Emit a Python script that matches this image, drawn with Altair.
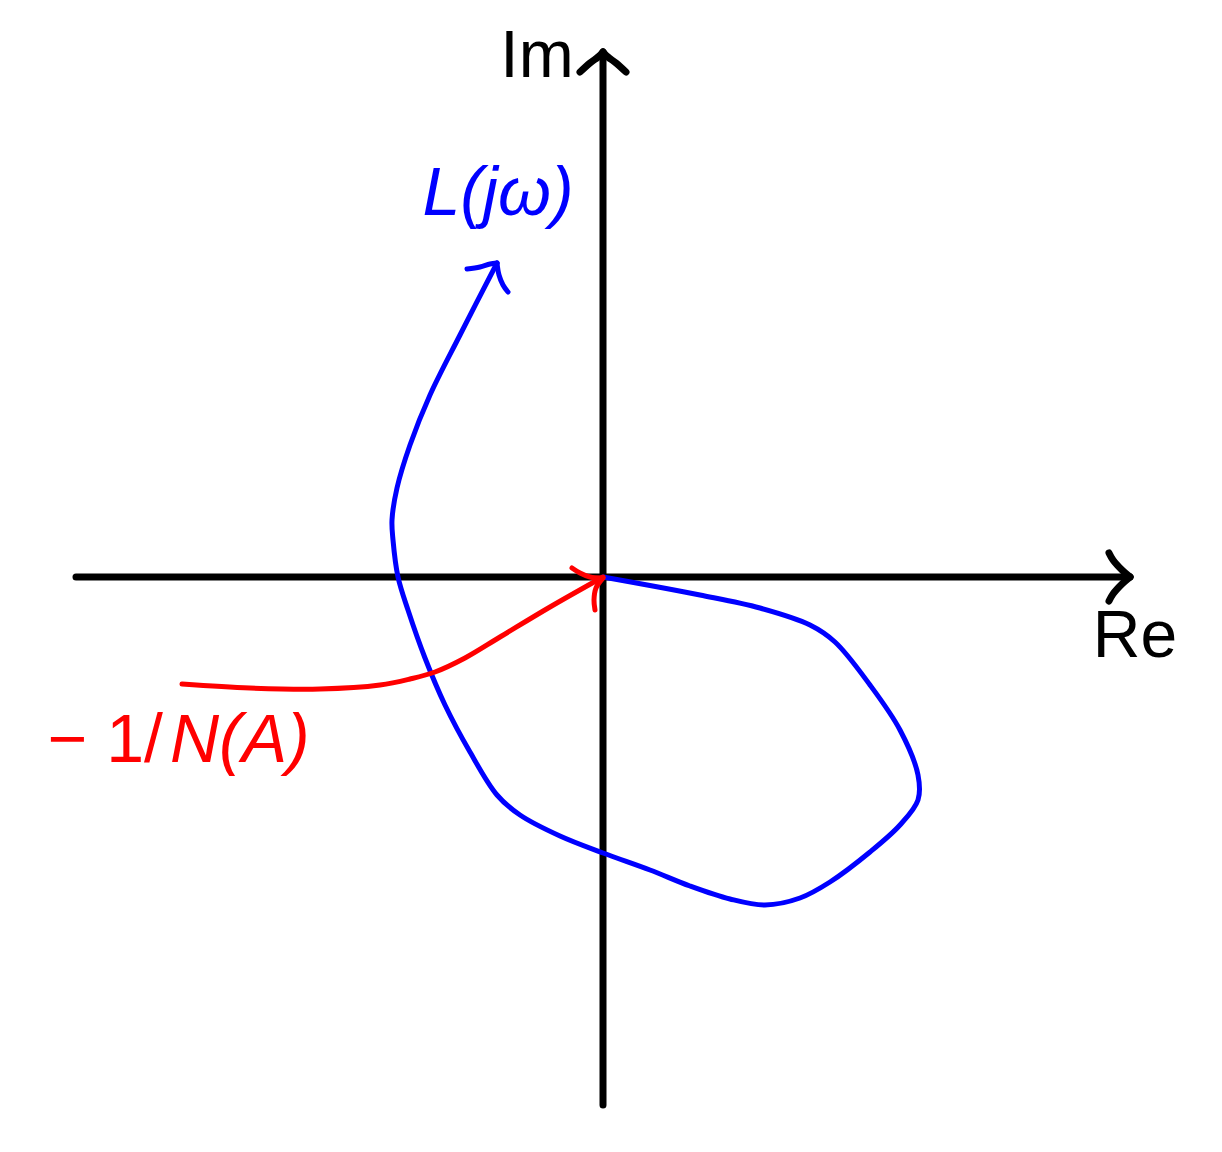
import altair as alt
import pandas as pd

# Coordinates in plot units (origin at the intersection of the axes)
# Axes
re_axis_x = [-5.27, 5.27]
re_axis_y = [0.0, 0.0]
im_axis_x = [0.0, 0.0]
im_axis_y = [-5.28, 5.25]
re_barb_top_x = [5.06, 5.10, 5.19, 5.27]
re_barb_top_y = [0.24, 0.17, 0.07, 0.0]
re_barb_bot_x = [5.06, 5.10, 5.19, 5.27]
re_barb_bot_y = [-0.24, -0.17, -0.07, 0.0]
im_barb_left_x = [-0.23, -0.13, -0.05, 0.0]
im_barb_left_y = [5.05, 5.14, 5.20, 5.25]
im_barb_right_x = [0.23, 0.13, 0.05, 0.0]
im_barb_right_y = [5.05, 5.14, 5.20, 5.25]

# L(jw) curve
L_x = [0.0, 0.97, 1.57, 2.07, 2.32, 2.67, 2.97, 3.15, 3.15, 2.97, 2.67, 2.27, 1.97,
       1.62, 1.27, 0.87, 0.47, 0.0, -0.43, -0.83, -1.06, -1.33, -1.58, -1.78, -1.95,
       -2.05, -2.10, -2.11, -2.06, -1.93, -1.73, -1.43, -1.06]
L_y = [0.0, -0.18, -0.31, -0.48, -0.65, -1.08, -1.53, -1.98, -2.23, -2.48, -2.75, -3.05, -3.21,
       -3.28, -3.22, -3.09, -2.93, -2.76, -2.59, -2.38, -2.18, -1.75, -1.28, -0.81, -0.33,
       0.0, 0.37, 0.57, 0.89, 1.32, 1.82, 2.42, 3.14]
L_barb1_x = [-1.36, -1.23, -1.13, -1.06]
L_barb1_y = [3.08, 3.10, 3.13, 3.14]
L_barb2_x = [-0.95, -1.00, -1.04, -1.06]
L_barb2_y = [2.85, 2.92, 3.02, 3.14]

# -1/N(A) curve
N_x = [-4.21, -3.53, -2.83, -2.23, -1.93, -1.68, -1.38, -1.03, -0.53, 0.0]
N_y = [-1.07, -1.11, -1.12, -1.08, -1.02, -0.95, -0.81, -0.60, -0.30, 0.0]
N_barb1_x = [-0.31, -0.23, -0.13, 0.0]
N_barb1_y = [0.09, 0.04, 0.0, -0.01]
N_barb2_x = [-0.08, -0.09, -0.07, 0.0]
N_barb2_y = [-0.33, -0.23, -0.11, -0.01]

# Labels
label_im = "Im"
label_re = "Re"
label_L = "L(jω)"
label_N1 = "− 1/"
label_N2 = "N(A)"


def seg(name, xs, ys):
    return pd.DataFrame({"x": xs, "y": ys, "seg": name, "i": list(range(len(xs)))})


axes_df = pd.concat([
    seg("re", re_axis_x, re_axis_y), seg("im", im_axis_x, im_axis_y),
    seg("rb1", re_barb_top_x, re_barb_top_y), seg("rb2", re_barb_bot_x, re_barb_bot_y),
    seg("ib1", im_barb_left_x, im_barb_left_y), seg("ib2", im_barb_right_x, im_barb_right_y),
])
blue_df = pd.concat([seg("L", L_x, L_y), seg("lb1", L_barb1_x, L_barb1_y),
                     seg("lb2", L_barb2_x, L_barb2_y)])
red_df = pd.concat([seg("N", N_x, N_y), seg("nb1", N_barb1_x, N_barb1_y),
                    seg("nb2", N_barb2_x, N_barb2_y)])

xs = alt.Scale(domain=[-5.95, 6.11], nice=False, zero=False)
ys = alt.Scale(domain=[-5.67, 5.69], nice=False, zero=False)
X = alt.X("x:Q", scale=xs, axis=None)
Y = alt.Y("y:Q", scale=ys, axis=None)


def lines(df, color, width):
    return alt.Chart(df).mark_line(color=color, strokeWidth=width, strokeCap="round",
                                   strokeJoin="round", interpolate="catmull-rom").encode(
        x=X, y=Y, detail="seg:N", order="i:Q")


labels_df = pd.DataFrame({
    "x": [-0.66, 5.32, -1.05, -4.40, -4.33],
    "y": [5.00, -0.80, 3.62, -1.85, -1.85],
    "t": [label_im, label_re, label_L, label_N1, label_N2],
    "c": ["black", "black", "blue", "red", "red"],
    "a": ["center", "center", "center", "right", "left"],
    "s": ["normal", "normal", "italic", "normal", "italic"],
    "f": [66, 66, 68, 68, 68],
})


def text(row):
    d = labels_df.iloc[[row]]
    r = labels_df.iloc[row]
    return alt.Chart(d).mark_text(font="Liberation Sans", fontSize=int(r["f"]), color=r["c"],
                                  align=r["a"], baseline="alphabetic",
                                  fontStyle=r["s"]).encode(x=X, y=Y, text="t:N")


chart = alt.layer(
    lines(axes_df, "black", 7),
    lines(blue_df, "blue", 5),
    lines(red_df, "red", 5),
    *[text(i) for i in range(len(labels_df))],
).properties(width=1206, height=1136, padding=0).configure_view(stroke=None)

chart.save("out.html", embed_options={"renderer": "svg", "actions": False})
